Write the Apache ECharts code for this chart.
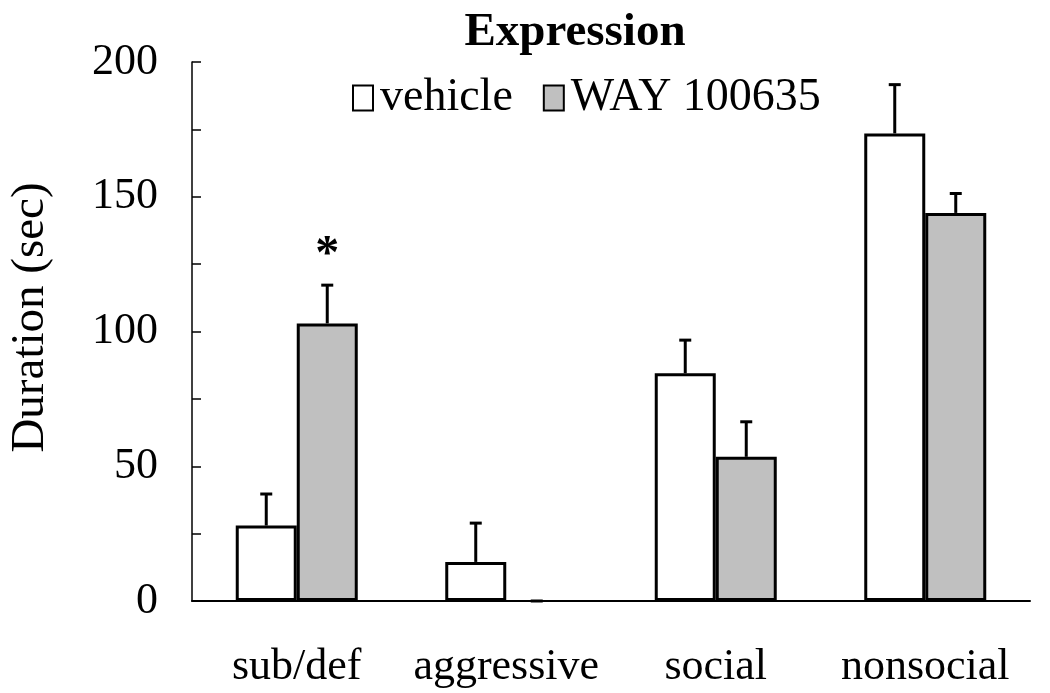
<!DOCTYPE html>
<html>
<head>
<meta charset="utf-8">
<script src="https://cdn.jsdelivr.net/npm/echarts@6/dist/echarts.min.js"></script>
<style>html,body{margin:0;padding:0;background:#fff;}#c{width:1050px;height:693px;}</style>
</head>
<body>
<div id="c"></div>
<script>
var categories = ['sub/def', 'aggressive', 'social', 'nonsocial'];
var vehicle = [28, 14.5, 84.5, 173.5];
var vehicleErr = [11.7, 14.4, 12.3, 18.1];
var way = [103, 0, 53.5, 144];
var wayErr = [14.2, 0, 13, 7.2];
var sig = ['*', '', '', ''];
var yTicks = [0, 50, 100, 150, 200];

var FONT = '"Liberation Serif", "Times New Roman", serif';
var BAR_W = 61;

function barData(vals) {
  return vals.map(function (v) {
    return v === 0 ? { value: v, itemStyle: { borderWidth: 0 } } : v;
  });
}

function errSeries(name, vals, errs, side, marks) {
  return {
    type: 'custom',
    name: name + '_err',
    z: 5,
    data: vals.map(function (v, i) { return [i, v, errs[i]]; }),
    encode: { x: 0, y: 1 },
    renderItem: function (params, api) {
      var i = api.value(0), v = api.value(1), e = api.value(2);
      var p0 = api.coord([i, v]);
      var p1 = api.coord([i, v + e]);
      var x = p0[0] + side * BAR_W / 2;
      var children = [];
      if (e > 0) {
        children.push({ type: 'line', shape: { x1: x, y1: p0[1], x2: x, y2: p1[1] },
          style: { stroke: '#000', lineWidth: 3 } });
      }
      children.push({ type: 'line', shape: { x1: x - 6, y1: p1[1], x2: x + 6, y2: p1[1] },
        style: { stroke: '#000', lineWidth: 3 } });
      if (marks && marks[params.dataIndex]) {
        var pm = api.coord([i, v + e + 11]);
        children.push({ type: 'text', style: { x: x, y: pm[1], text: marks[params.dataIndex],
          font: 'bold 48px ' + FONT, fill: '#000', align: 'center', verticalAlign: 'middle' } });
      }
      return { type: 'group', children: children };
    }
  };
}

var chart = echarts.init(document.getElementById('c'));
chart.setOption({
  animation: false,
  backgroundColor: '#fff',
  title: {
    text: 'Expression',
    left: 570, top: 4, textAlign: 'center',
    textStyle: { fontFamily: FONT, fontWeight: 'bold', fontSize: 47, color: '#000' }
  },
  legend: {
    data: ['vehicle', 'WAY 100635'],
    left: 347, top: 70,
    icon: 'rect',
    itemWidth: 20, itemHeight: 25, itemGap: 30,
    itemStyle: { borderColor: '#000', borderWidth: 2 },
    textStyle: { fontFamily: FONT, fontSize: 46, color: '#000', padding: [0, 0, 0, 2] }
  },
  grid: { left: 192, right: 20, top: 62, bottom: 92, containLabel: false, outerBoundsMode: 'none' },
  xAxis: {
    type: 'category',
    data: categories,
    axisLine: { lineStyle: { color: '#000', width: 2 } },
    axisTick: { show: false },
    axisLabel: { fontFamily: FONT, fontSize: 44, color: '#000', margin: 44, interval: 0 }
  },
  yAxis: {
    type: 'value',
    min: 0, max: 200, interval: 25,
    name: 'Duration (sec)',
    nameLocation: 'middle',
    nameGap: 138,
    nameTextStyle: { fontFamily: FONT, fontSize: 47, color: '#000', padding: [0, 0, 0, 28] },
    splitLine: { show: false },
    axisLine: { show: true, lineStyle: { color: '#000', width: 1.5 } },
    axisTick: { show: true, inside: true, length: 9, lineStyle: { color: '#000', width: 1.5 } },
    axisLabel: {
      fontFamily: FONT, fontSize: 44, color: '#000', margin: 34,
      formatter: function (v) { return yTicks.indexOf(v) >= 0 ? String(v) : ''; }
    }
  },
  series: [
    { type: 'bar', name: 'vehicle', data: barData(vehicle), barWidth: BAR_W, barGap: '0%',
      itemStyle: { color: '#ffffff', borderColor: '#000', borderWidth: 3 } },
    { type: 'bar', name: 'WAY 100635', data: barData(way), barWidth: BAR_W, barGap: '0%',
      itemStyle: { color: '#c0c0c0', borderColor: '#000', borderWidth: 3 } },
    errSeries('vehicle', vehicle, vehicleErr, -1, null),
    errSeries('way', way, wayErr, 1, sig)
  ]
});
</script>
</body>
</html>
